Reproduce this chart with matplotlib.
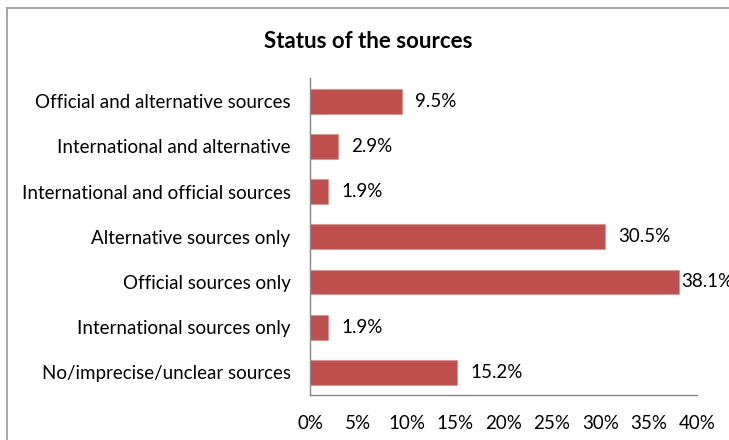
import matplotlib.pyplot as plt
from matplotlib.lines import Line2D
from matplotlib.ticker import FuncFormatter

plt.rcParams['font.family'] = ['Lato', 'DejaVu Sans']

# categories listed bottom to top, as drawn
categories = [
    'No/imprecise/unclear sources',
    'International sources only',
    'Official sources only',
    'Alternative sources only',
    'International and official sources',
    'International and alternative',
    'Official and alternative sources',
]
shares = [15.2, 1.9, 38.1, 30.5, 1.9, 2.9, 9.5]
x_ticks = [0, 5, 10, 15, 20, 25, 30, 35, 40]

bar_color = '#C0504D'
axis_gray = '#868686'

W, H = 729, 440
fig = plt.figure(figsize=(W / 100, H / 100), dpi=100)

# plot area in pixel units -> figure fractions
left, right, top, bottom = 310, 697, 78.5, 395
ax = fig.add_axes([left / W, 1 - bottom / H, (right - left) / W, (bottom - top) / H])

y = range(len(categories))
ax.barh(y, shares, height=0.55, color=bar_color, edgecolor='#D99694', linewidth=0.6)
ax.set_ylim(-0.5, len(categories) - 0.5)
ax.set_xlim(0, 40)
ax.set_xticks(x_ticks)
ax.xaxis.set_major_formatter(FuncFormatter(lambda v, _: f'{v:.0f}%'))
ax.set_yticks(list(y))
ax.set_yticklabels(categories)
ax.tick_params(axis='both', length=0, labelsize=13.5, colors='black')
ax.tick_params(axis='x', pad=14.5)
ax.tick_params(axis='y', pad=14)

for side in ['top', 'right']:
    ax.spines[side].set_visible(False)
for side in ['left', 'bottom']:
    ax.spines[side].set_color(axis_gray)
    ax.spines[side].set_linewidth(1.0)

# value labels just past the end of each bar
for yi, v in zip(y, shares):
    gap = 2 if v > 35 else 9.5
    ax.annotate(f'{v:.1f}%', xy=(v, yi), xytext=(gap, 0), textcoords='offset points',
                va='center', ha='left', fontsize=13.5, annotation_clip=False)

fig.text(368 / W, 1 - 42 / H, 'Status of the sources', ha='center', va='center',
         fontsize=16, fontweight='bold')

# chart border (top and left edges fall inside the image)
fig.add_artist(Line2D([7 / W, 1], [1 - 8 / H, 1 - 8 / H], transform=fig.transFigure,
                      color='#9A9A9A', linewidth=1.2))
fig.add_artist(Line2D([7 / W, 7 / W], [0, 1 - 8 / H], transform=fig.transFigure,
                      color='#9A9A9A', linewidth=1.2))

fig.savefig('out.png', dpi=100)
